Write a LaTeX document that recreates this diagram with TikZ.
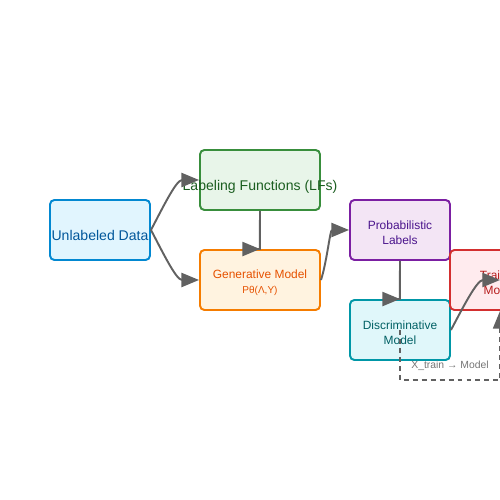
\documentclass[tikz,border=0pt]{standalone}
\usepackage{fontspec}
\setmainfont{Liberation Sans}
\usetikzlibrary{arrows.meta}
\definecolor{bleuB}{HTML}{0288D1}
\definecolor{bleuF}{HTML}{E1F5FE}
\definecolor{bleuT}{HTML}{01579B}
\definecolor{vertB}{HTML}{388E3C}
\definecolor{vertF}{HTML}{E8F5E9}
\definecolor{vertT}{HTML}{1B5E20}
\definecolor{orangeB}{HTML}{F57C00}
\definecolor{orangeF}{HTML}{FFF3E0}
\definecolor{orangeT}{HTML}{E65100}
\definecolor{violetB}{HTML}{7B1FA2}
\definecolor{violetF}{HTML}{F3E5F5}
\definecolor{violetT}{HTML}{4A148C}
\definecolor{cyanB}{HTML}{0097A7}
\definecolor{cyanF}{HTML}{E0F7FA}
\definecolor{cyanT}{HTML}{006064}
\definecolor{rougeB}{HTML}{D32F2F}
\definecolor{rougeF}{HTML}{FFEBEE}
\definecolor{rougeT}{HTML}{B71C1C}
\definecolor{gris}{HTML}{616161}
\definecolor{grisT}{HTML}{757575}
\newcommand{\calage}{\rule[-0.25em]{0pt}{1.98em}}
\newcommand{\calagedeux}{\rule{0pt}{\baselineskip}}

\begin{document}
\begin{tikzpicture}

  % Style des boites et des flèches
  \tikzstyle{boite} = [rectangle, rounded corners=2.5pt, line width=1.1pt, minimum width=2cm, minimum height=1.2cm, inner sep=0pt, align=center]
  \tikzstyle{fleche} = [-{Triangle[length=10pt,width=8pt]}, line width=1.1pt, gris]
  \tikzstyle{courbe} = [fleche, looseness=0.85]
  \tikzstyle{pointille} = [fleche, line width=0.85pt, dash pattern=on 2.8pt off 2.3pt]

  \useasboundingbox (0,0) rectangle (10,10);

  % Liste des boxes
  \node[boite, draw=bleuB, fill=bleuF, text=bleuT, font=\fontsize{8}{9.6}\selectfont] (donnees) at (2,5.4) {\calage Unlabeled Data};
  \node[boite, minimum width=2.4cm, draw=vertB, fill=vertF, text=vertT, font=\fontsize{8}{9.6}\selectfont] (lfs) at (5.2,6.4) {\calage\makebox[0pt]{Labeling Functions (LFs)}};
  \node[boite, minimum width=2.4cm, draw=orangeB, fill=orangeF, text=orangeT, font=\fontsize{6.8}{8.5}\selectfont] (generatif) at (5.2,4.4) {\calagedeux Generative Model\\{\fontsize{5.7}{7}\selectfont Pθ(Λ,Y)}};
  \node[boite, draw=violetB, fill=violetF, text=violetT, font=\fontsize{6.8}{8.2}\selectfont] (probas) at (8,5.4) {\calagedeux Probabilistic\\Labels};
  \node[boite, draw=cyanB, fill=cyanF, text=cyanT, font=\fontsize{6.8}{8.5}\selectfont] (discrim) at (8,3.4) {\calagedeux Discriminative\\Model};
  \node[boite, draw=rougeB, fill=rougeF, text=rougeT, font=\fontsize{6.8}{8.5}\selectfont] (entraine) at (10,4.4) {\calagedeux Trained\\Model};

  % Flèches
  \draw[courbe] (donnees.east) to[out=62, in=180] (lfs.west);
  \draw[courbe] (donnees.east) to[out=-62, in=180] (generatif.west);
  \draw[fleche] (lfs.south) -- ([xshift=-0.1pt]generatif.north) -- (generatif.north);
  \draw[courbe] (generatif.east) to[out=72, in=180] (probas.west);
  \draw[fleche] (probas.south) -- ([xshift=-0.1pt]discrim.north) -- (discrim.north);
  \draw[courbe] (discrim.east) to[out=62, in=180] (entraine.center);

  % Retour en pointillés
  \coordinate (coinG) at (8,2.4);
  \coordinate (coinD) at (10,2.4);
  \draw[pointille] (discrim.center) -- (coinG) -- (coinD) -- (entraine.south);
  \node[text=grisT, font=\fontsize{5.9}{7}\selectfont, anchor=base] (legende) at (9,2.62) {X\_train → Model};

\end{tikzpicture}
\end{document}
